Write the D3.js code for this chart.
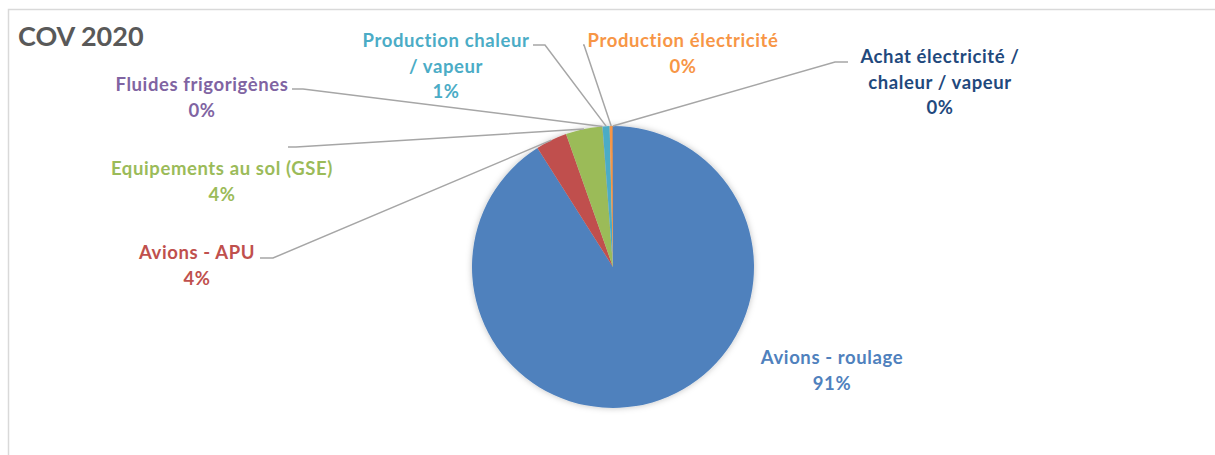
<!DOCTYPE html>
<html><head><meta charset="utf-8">
<script src="https://cdn.jsdelivr.net/npm/d3@7/dist/d3.min.js"></script>
<style>
html,body{margin:0;padding:0;background:#fff;}
text{font-family:Lato,"Open Sans",sans-serif;font-weight:bold;}
</style></head>
<body><svg id="chart" width="1215" height="455"></svg>
<script>
const title = "COV 2020";
const categories = ["Avions - roulage","Avions - APU","Equipements au sol (GSE)","Fluides frigorigènes","Production chaleur / vapeur","Production électricité","Achat électricité / chaleur / vapeur"];
const values = [91.0, 3.6, 4.2, 0.02, 0.8, 0.35, 0.03];
const colors = ["#4F81BD","#C0504D","#9BBB59","#8064A2","#4BACC6","#F79646","#1F497D"];
// label layout: text lines (split of category), center, leader start/elbow
const labelLines = [
  ["Avions - roulage"],
  ["Avions - APU"],
  ["Equipements au sol (GSE)"],
  ["Fluides frigorigènes"],
  ["Production chaleur","/ vapeur"],
  ["Production électricité"],
  ["Achat électricité /","chaleur / vapeur"]
];
const labelPos = [[832,357],[197,252],[222,168],[202,84],[446,40],[683,40],[940,56]];
const leaders = [null,[[260,258],[273,258]],[[288,147],[296,147]],[[292,89],[303,89]],[[533,45],[545,45]],[[583,45],[584,45]],[[848,62],[835,62]]];

const svg = d3.select("#chart");
const W=1215,H=455;
svg.append("rect").attr("x",8.5).attr("y",9.5).attr("width",W+10).attr("height",H+10)
  .attr("fill","#fff").attr("stroke","#d9d9d9").attr("stroke-width",1.5);
svg.append("text").attr("x",18).attr("y",46).attr("font-size",27).attr("fill","#595959").text(title);

const defs = svg.append("defs");
const f = defs.append("filter").attr("id","sh").attr("x","-20%").attr("y","-20%").attr("width","140%").attr("height","140%");
f.append("feDropShadow").attr("dx",0).attr("dy",0).attr("stdDeviation",3).attr("flood-color","#000").attr("flood-opacity",0.25);

const cx=613, cy=267, r=141;
const total = d3.sum(values);
const pie = d3.pie().sort(null).value(d=>d)(values);
const arc = d3.arc().innerRadius(0).outerRadius(r);
const g = svg.append("g").attr("transform",`translate(${cx},${cy})`);
const gp = g.append("g").attr("filter","url(#sh)");
gp.selectAll("path").data(pie).join("path").attr("d",arc).attr("fill",(d,i)=>colors[i]);

const outer = d3.arc().innerRadius(r).outerRadius(r);
pie.forEach((d,i)=>{
  const ld = leaders[i];
  if(!ld) return;
  const c = outer.centroid(d);
  const pts = [ld[0],ld[1],[c[0]+cx,c[1]+cy]];
  svg.append("path").attr("d",d3.line()(pts)).attr("fill","none").attr("stroke","#a6a6a6").attr("stroke-width",1.5);
});

pie.forEach((d,i)=>{
  const lines = labelLines[i].concat([Math.round(values[i]/total*100)+"%"]);
  const t = svg.append("text").attr("text-anchor","middle").attr("font-size",18.5)
    .attr("letter-spacing",0.6).attr("fill",colors[i]);
  lines.forEach((s,k)=>{
    t.append("tspan").attr("x",labelPos[i][0]).attr("y",labelPos[i][1]+k*25.5).attr("dominant-baseline","central").text(s);
  });
});
</script></body></html>
